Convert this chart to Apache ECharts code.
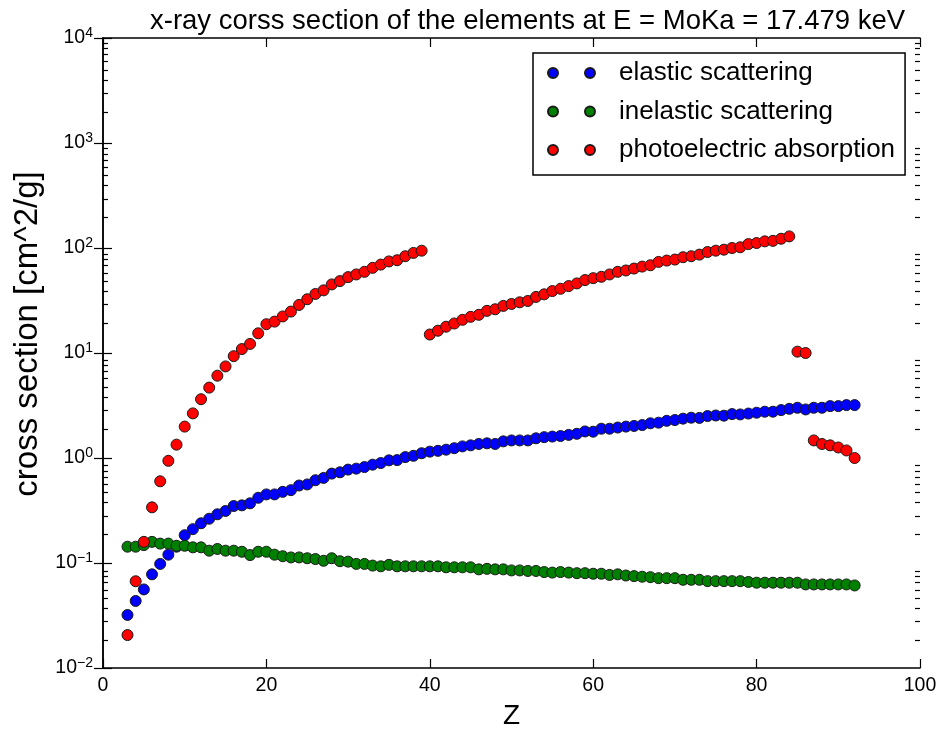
<!DOCTYPE html>
<html>
<head>
<meta charset="utf-8">
<script src="https://cdn.jsdelivr.net/npm/echarts@6/dist/echarts.min.js"></script>
<style>
  html, body { margin: 0; padding: 0; background: #fff; }
  #chart { width: 941px; height: 735px; }
</style>
</head>
<body>
<div id="chart"></div>
<script>
// atomic numbers
const zValues = [3, 4, 5, 6, 7, 8, 9, 10, 11, 12, 13, 14, 15, 16, 17, 18, 19, 20,
  21, 22, 23, 24, 25, 26, 27, 28, 29, 30, 31, 32, 33, 34, 35, 36, 37, 38, 39, 40,
  41, 42, 43, 44, 45, 46, 47, 48, 49, 50, 51, 52, 53, 54, 55, 56, 57, 58, 59, 60,
  61, 62, 63, 64, 65, 66, 67, 68, 69, 70, 71, 72, 73, 74, 75, 76, 77, 78, 79, 80,
  81, 82, 83, 84, 85, 86, 87, 88, 89, 90, 91, 92];

// cross sections [cm^2/g]
const elastic = [0.032, 0.0435, 0.056, 0.078, 0.098, 0.12, 0.143, 0.184, 0.21, 0.239,
  0.264, 0.291, 0.313, 0.349, 0.354, 0.37, 0.418, 0.45, 0.45, 0.476,
  0.494, 0.547, 0.56, 0.614, 0.646, 0.71, 0.731, 0.775, 0.792, 0.82,
  0.864, 0.895, 0.95, 0.955, 1.02, 1.05, 1.11, 1.15, 1.17, 1.20,
  1.24, 1.29, 1.32, 1.36, 1.38, 1.36, 1.44, 1.47, 1.47, 1.47,
  1.54, 1.58, 1.60, 1.62, 1.66, 1.70, 1.79, 1.78, 1.90, 1.90,
  1.95, 1.99, 2.02, 2.06, 2.14, 2.17, 2.26, 2.30, 2.37, 2.42,
  2.41, 2.51, 2.54, 2.53, 2.62, 2.60, 2.65, 2.70, 2.76, 2.76,
  2.86, 2.94, 3.01, 2.90, 3.01, 3.01, 3.12, 3.12, 3.19, 3.19];

const inelastic = [0.143, 0.143, 0.148, 0.159, 0.153, 0.153, 0.146, 0.146, 0.141, 0.141,
  0.131, 0.136, 0.131, 0.131, 0.128, 0.119, 0.128, 0.128, 0.120, 0.116,
  0.113, 0.113, 0.111, 0.109, 0.105, 0.111, 0.104, 0.103, 0.098, 0.098,
  0.0945, 0.093, 0.096, 0.093, 0.093, 0.093, 0.093, 0.093, 0.093, 0.091,
  0.091, 0.091, 0.091, 0.087, 0.088, 0.087, 0.087, 0.085, 0.085, 0.084,
  0.084, 0.082, 0.081, 0.082, 0.081, 0.080, 0.080, 0.079, 0.079, 0.077,
  0.078, 0.076, 0.075, 0.074, 0.0733, 0.0717, 0.0717, 0.0717, 0.0692, 0.0692,
  0.0692, 0.0672, 0.0672, 0.0672, 0.0672, 0.0672, 0.0660, 0.0649, 0.0649, 0.0649,
  0.0649, 0.0649, 0.0649, 0.0625, 0.0625, 0.0625, 0.0625, 0.0625, 0.0625, 0.0611];

const photo = [0.0206, 0.067, 0.159, 0.339, 0.60, 0.94, 1.34, 1.99, 2.66, 3.63,
  4.68, 6.08, 7.45, 9.33, 10.9, 12.2, 15.4, 18.8, 19.9, 22.3,
  24.8, 28.7, 32.5, 36.5, 39.5, 45.0, 48.4, 52.8, 56.0, 59.3,
  64.7, 69.5, 74.5, 76.5, 83.5, 89.8, 94.3, 15.0, 16.3, 17.8,
  19.1, 20.7, 22.1, 23.1, 25.2, 26.1, 28.1, 29.3, 30.4, 31.3,
  34.2, 36.2, 38.9, 40.9, 43.4, 46.0, 49.5, 51.6, 53.2, 56.0,
  59.3, 61.1, 63.7, 66.5, 68.5, 73.7, 75.9, 77.6, 81.7, 83.5,
  86.5, 91.6, 94.3, 96.4, 100, 101.6, 109, 111.5, 115.7, 117,
  122.5, 129, 10.3, 10.0, 1.47, 1.36, 1.32, 1.26, 1.18, 1.00];

const seriesNames = ['elastic scattering', 'inelastic scattering', 'photoelectric absorption'];
const seriesColors = ['#0000ff', '#008000', '#ff0000'];

// tick positions on the log axis
const majorTicks = [0.01, 0.1, 1, 10, 100, 1000, 10000];
const minorTicks = [];
majorTicks.slice(0, -1).forEach(d => {
  for (let k = 2; k <= 9; k++) minorTicks.push(d * k);
});

const FONT = 'Liberation Sans, Arial, sans-serif';

const chart = echarts.init(document.getElementById('chart'));

const pair = (vals) => zValues.map((z, i) => [z, vals[i]]);

// matplotlib-style legend: two markers per entry
const legendIcon = 'path://M0,5a5,5 0 1,0 10,0a5,5 0 1,0 -10,0zM37,5a5,5 0 1,0 10,0a5,5 0 1,0 -10,0z';

const logLabel = (v) => {
  const e = Math.round(Math.log10(v));
  return '{b|10}{s|' + String(e).replace('-', '\u2212') + '}';
};

const gridBox = { left: 103, right: 21, top: 38, bottom: 63 };
const tickStyle = { color: '#000', width: 1.2 };

const yBase = {
  type: 'log',
  logBase: 10,
  min: 0.01,
  max: 10000,
  splitLine: { show: false },
  axisLine: { show: true, lineStyle: { color: '#000', width: 1.5 } }
};

// minor ticks live on a second, identical grid so they do not fight the main axes
const minorAxis = (pos) => Object.assign({}, yBase, {
  gridIndex: 1,
  position: pos,
  axisLine: { show: false },
  axisTick: { show: true, inside: true, length: 5, customValues: minorTicks, lineStyle: tickStyle },
  axisLabel: { show: false }
});

const option = {
  backgroundColor: '#fff',
  animation: false,
  title: {
    text: 'x-ray corss section of the elements at E = MoKa = 17.479 keV',
    left: 145,
    top: 2,
    textStyle: { fontFamily: FONT, fontSize: 27.5, fontWeight: 'normal', color: '#000' }
  },
  grid: [Object.assign({}, gridBox), Object.assign({}, gridBox)],
  legend: {
    orient: 'vertical',
    left: 533,
    top: 53,
    data: seriesNames,
    icon: legendIcon,
    itemWidth: 47,
    itemHeight: 10,
    itemGap: 12.5,
    padding: [7, 10, 12, 14],
    backgroundColor: '#fff',
    borderColor: '#000',
    borderWidth: 1.5,
    borderRadius: 0,
    textStyle: { fontFamily: FONT, fontSize: 26, lineHeight: 26, color: '#000', padding: [0, 0, 0, 19] }
  },
  xAxis: [
    {
      type: 'value',
      min: 0,
      max: 100,
      interval: 20,
      name: 'Z',
      nameLocation: 'middle',
      nameGap: 34,
      nameTextStyle: { fontFamily: FONT, fontSize: 28, color: '#000' },
      axisLine: { show: true, lineStyle: { color: '#000', width: 1.5 } },
      axisTick: { show: true, inside: true, length: 9, lineStyle: tickStyle },
      axisLabel: { fontFamily: FONT, fontSize: 19.5, color: '#000', margin: 8 },
      splitLine: { show: false }
    },
    {
      type: 'value',
      position: 'top',
      min: 0,
      max: 100,
      interval: 20,
      axisLine: { show: true, lineStyle: { color: '#000', width: 1.5 } },
      axisTick: { show: true, inside: true, length: 9, lineStyle: tickStyle },
      axisLabel: { show: false },
      splitLine: { show: false }
    },
    {
      type: 'value',
      gridIndex: 1,
      min: 0,
      max: 100,
      show: false
    }
  ],
  yAxis: [
    Object.assign({}, yBase, {
      position: 'left',
      name: 'cross section [cm^2/g]',
      nameLocation: 'middle',
      nameGap: 57,
      nameTextStyle: { fontFamily: FONT, fontSize: 33, color: '#000', padding: [0, 0, 0, 38] },
      axisTick: { show: true, inside: true, length: 9, customValues: majorTicks, lineStyle: tickStyle },
      axisLabel: {
        customValues: majorTicks,
        margin: 10,
        formatter: logLabel,
        rich: {
          b: { fontFamily: FONT, fontSize: 19.5, color: '#000' },
          s: { fontFamily: FONT, fontSize: 14, color: '#000', verticalAlign: 'top', padding: [0, 0, 10, 0] }
        }
      }
    }),
    Object.assign({}, yBase, {
      position: 'right',
      axisTick: { show: true, inside: true, length: 9, customValues: majorTicks, lineStyle: tickStyle },
      axisLabel: { show: false }
    }),
    minorAxis('left'),
    minorAxis('right')
  ],
  series: [elastic, inelastic, photo].map((vals, i) => ({
    name: seriesNames[i],
    type: 'scatter',
    xAxisIndex: 0,
    yAxisIndex: 0,
    symbol: 'circle',
    symbolSize: 11,
    itemStyle: { color: seriesColors[i], borderColor: '#1a1a1a', borderWidth: 1, opacity: 1 },
    data: pair(vals)
  }))
};

chart.setOption(option);
</script>
</body>
</html>
